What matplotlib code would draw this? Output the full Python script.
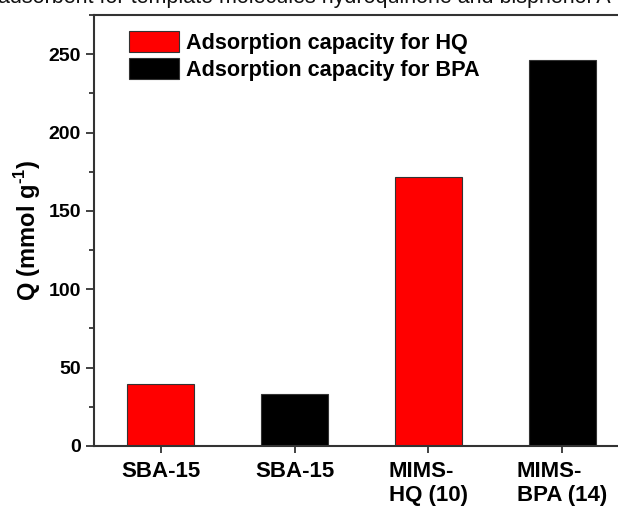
from matplotlib import pyplot as plt
from matplotlib.patches import Patch
from matplotlib.ticker import MultipleLocator

plt.rcParams['font.family'] = ['Liberation Sans', 'DejaVu Sans']
plt.rcParams['mathtext.fontset'] = 'custom'
plt.rcParams['mathtext.rm'] = 'Liberation Sans:bold'
plt.rcParams['mathtext.bf'] = 'Liberation Sans:bold'

# Adsorption capacity Q (mmol/g) of each sorbent
samples = ['SBA-15', 'SBA-15', 'MIMS-\nHQ (10)', 'MIMS-\nBPA (14)']
capacity = [39.5, 33.2, 171.8, 246.6]
template = ['HQ', 'BPA', 'HQ', 'BPA']
colors = {'HQ': '#ff0000', 'BPA': '#000000'}
legend_text = ['Adsorption capacity for HQ', 'Adsorption capacity for BPA']
caption = 'adsorbent for template molecules hydroquinone and bisphenol A'

fig = plt.figure(figsize=(6.18, 5.08), dpi=100)
ax = fig.add_axes([94/618, 1-446/508, 535/618, 431/508])

pos = [1, 2, 3, 4]
ax.bar(pos, capacity, width=0.5, color=[colors[t] for t in template],
       edgecolor='#333333', linewidth=0.8)

ax.set_xlim(0.5, 4.5)
ax.set_ylim(0, 275)
ax.set_xticks(pos)
ax.set_xticklabels(samples, fontsize=16, fontweight='bold', multialignment='left')
ax.yaxis.set_major_locator(MultipleLocator(50))
ax.yaxis.set_minor_locator(MultipleLocator(25))
ax.tick_params(axis='y', labelsize=14, width=1.3, length=6, color='#333333')
ax.tick_params(axis='y', which='minor', width=1.3, length=3.5, color='#333333')
ax.tick_params(axis='x', width=1.3, length=5, color='#333333', pad=6)
for lab in ax.get_yticklabels():
    lab.set_fontweight('bold')
for s in ax.spines.values():
    s.set_linewidth(1.5)
    s.set_color('#333333')

ax.set_ylabel('Q (mmol g$^{\\text{-1}}$)', fontsize=17, fontweight='bold', labelpad=4)

handles = [Patch(facecolor=colors['HQ'], edgecolor='#333333', linewidth=0.8),
           Patch(facecolor=colors['BPA'], edgecolor='#333333', linewidth=0.8)]
fig.legend(handles, legend_text, loc='upper left',
           bbox_to_anchor=(129/618, 1-31/508), frameon=False,
           prop={'size': 15.6, 'weight': 'bold'}, handlelength=2.3,
           handleheight=1.1, handletextpad=0.35, labelspacing=0.2,
           borderpad=0, borderaxespad=0)

# page caption above the figure, mostly cut off
fig.text(-0.003, 1-3/508, caption, fontsize=15.5, va='baseline', ha='left', color='#111111')

plt.savefig('out.png', dpi=100)
